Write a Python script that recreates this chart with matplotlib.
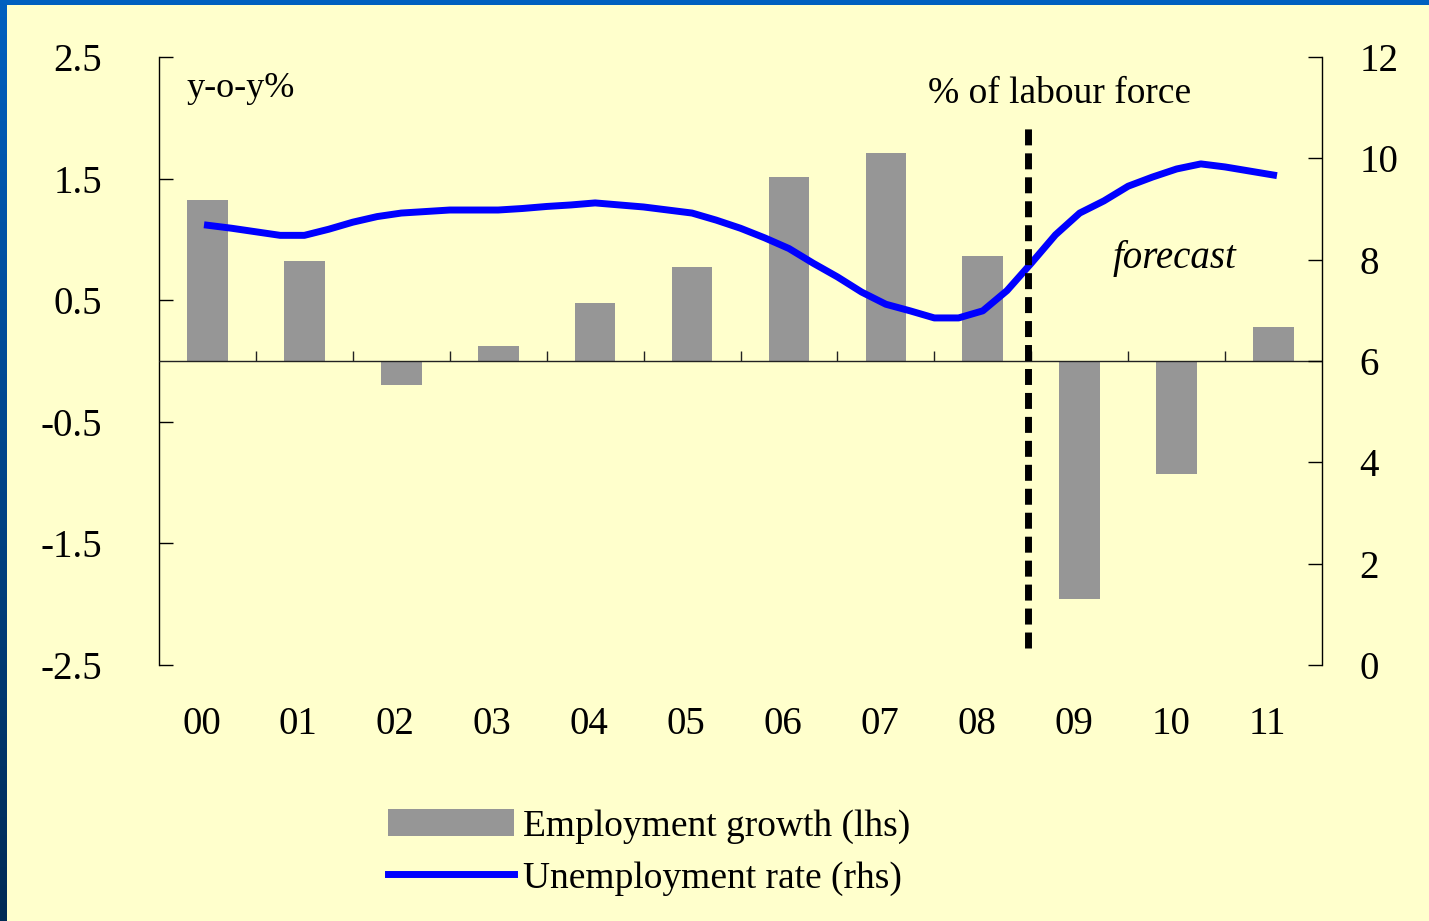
import numpy as np
import matplotlib.pyplot as plt
from matplotlib.colors import LinearSegmentedColormap
from matplotlib.patches import Rectangle
from matplotlib.transforms import ScaledTranslation

# annual employment growth (lhs, y-o-y %)
years = ['00', '01', '02', '03', '04', '05', '06', '07', '08', '09', '10', '11']
emp_growth = [1.32, 0.82, -0.20, 0.12, 0.48, 0.77, 1.51, 1.71, 0.86, -1.96, -0.93, 0.28]

# quarterly unemployment rate (rhs, % of labour force), mid-2000 to mid-2011
unemp_rate = [8.68, 8.62, 8.55, 8.48, 8.48, 8.60, 8.74, 8.85, 8.92, 8.95,
              8.98, 8.98, 8.98, 9.01, 9.05, 9.08, 9.12, 9.08, 9.04, 8.98,
              8.92, 8.78, 8.62, 8.43, 8.22, 7.93, 7.66, 7.36, 7.12, 6.99,
              6.85, 6.85, 6.99, 7.39, 7.93, 8.49, 8.92, 9.16, 9.45, 9.63,
              9.79, 9.89, 9.83, 9.75, 9.67]
forecast_start = 8.47

plt.rcParams['font.family'] = ['Liberation Serif', 'DejaVu Serif']

W, H = 1429, 921
fig = plt.figure(figsize=(W / 100, H / 100), dpi=100)

# slide background: blue frame with pale yellow panel
bg = fig.add_axes([0, 0, 1, 1], zorder=-10)
cmap = LinearSegmentedColormap.from_list('frame', ['#002A55', '#0060C0'])
bg.imshow(np.linspace(0, 1, 256).reshape(-1, 1), aspect='auto', cmap=cmap,
          extent=[0, 1, 0, 1], origin='lower')
bg.add_patch(Rectangle((7 / W, 0), 1, 1 - 5 / H, facecolor='#FFFFCC', edgecolor='none'))
bg.set_xlim(0, 1)
bg.set_ylim(0, 1)
bg.axis('off')

ax1 = fig.add_axes([159 / W, 1 - 665 / H, (1322 - 159) / W, (665 - 57) / H])
ax1.patch.set_visible(False)
x = np.arange(len(years))
bars = ax1.bar(x, emp_growth, width=0.42, color='#969696', zorder=2)
ax1.axhline(0, color='#222222', lw=1, zorder=3)
ax1.vlines(np.arange(len(years) - 1) + 0.5, 0, 0.08, color='#222222', lw=1, zorder=3)

ax1.set_xlim(-0.5, len(years) - 0.5)
ax1.set_ylim(-2.5, 2.5)
yt = np.arange(-2.5, 2.6, 1.0)
ax1.set_yticks(yt)
ax1.set_yticklabels(['%.1f' % v for v in yt])
ax1.tick_params(axis='y', direction='in', length=10, width=1, pad=41, labelsize=28)
ax1.set_xticks(x)
ax1.set_xticklabels(years)
ax1.tick_params(axis='x', length=0, pad=29.5, labelsize=28)
shift = ScaledTranslation(-6 / 100, 0, fig.dpi_scale_trans)
for lab in ax1.get_xticklabels():
    lab.set_transform(lab.get_transform() + shift)
for s in ['top', 'bottom', 'right']:
    ax1.spines[s].set_visible(False)
ax1.spines['left'].set_linewidth(1)

ax2 = ax1.twinx()
xq = np.arange(len(unemp_rate)) * 0.25
line, = ax2.plot(xq, unemp_rate, color='#0000FF', lw=5, zorder=3)
ax2.axvline(forecast_start, ymin=0.028, ymax=0.888, color='black', lw=5,
            dashes=(2.3, 1.15), zorder=4)
ax2.set_ylim(0, 12)
ax2.set_yticks(np.arange(0, 13, 2))
ax2.tick_params(axis='y', direction='in', length=10, width=1, pad=27, labelsize=28)
for s in ['top', 'bottom', 'left']:
    ax2.spines[s].set_visible(False)
ax2.spines['right'].set_linewidth(1)

ax1.text(0.024, 0.949, 'y-o-y%', transform=ax1.transAxes, fontsize=26, va='center')
ax1.text(0.661, 0.939, '% of labour force', transform=ax1.transAxes, fontsize=27, va='center')
ax1.text(0.820, 0.669, 'forecast', transform=ax1.transAxes, fontsize=28,
         style='italic', va='center')

fig.legend([bars, line], ['Employment growth (lhs)', 'Unemployment rate (rhs)'],
           loc='upper left', bbox_to_anchor=(388 / W, 1 - 809 / H), frameon=False,
           fontsize=27, handlelength=3.35, handleheight=0.75, handletextpad=0.25,
           labelspacing=0.45, borderpad=0, borderaxespad=0)

fig.savefig('out.png', dpi=100)
